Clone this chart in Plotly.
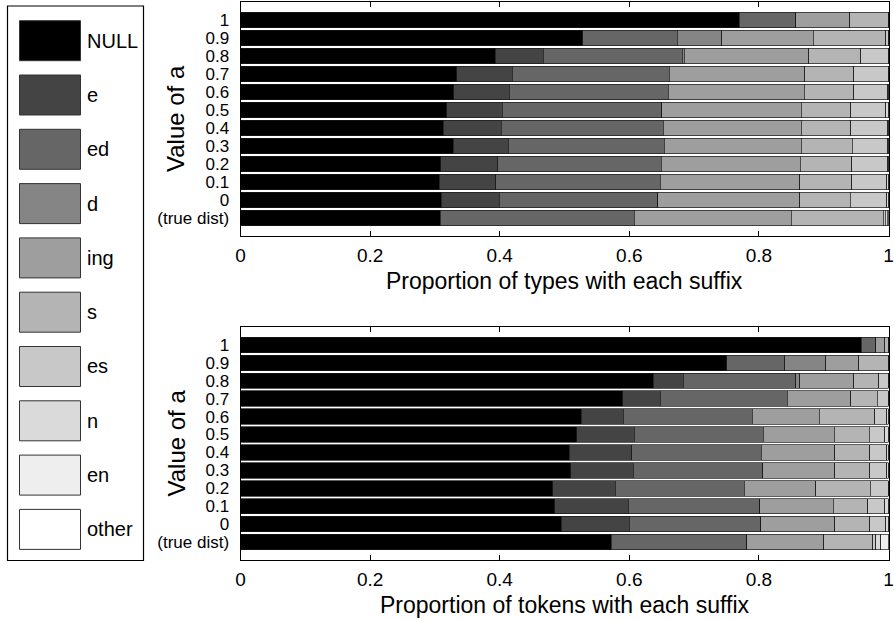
import plotly.graph_objects as go

W, H = 894, 620

rows = ["1", "0.9", "0.8", "0.7", "0.6", "0.5", "0.4", "0.3", "0.2", "0.1", "0", "(true dist)"]
suffixes = ["NULL", "e", "ed", "d", "ing", "s", "es", "n", "en", "other"]
colors = ["#000000", "#444444", "#666666", "#858585", "#9e9e9e", "#b4b4b4",
          "#c8c8c8", "#dadada", "#eeeeee", "#ffffff"]

# proportions of types, one list per row (order of suffixes)
types_1 = [0.770, 0.000, 0.087, 0.000, 0.083, 0.060, 0.000, 0.000, 0.000, 0.000]
types_09 = [0.528, 0.000, 0.146, 0.069, 0.141, 0.112, 0.004, 0.000, 0.000, 0.000]
types_08 = [0.393, 0.074, 0.215, 0.003, 0.192, 0.080, 0.043, 0.000, 0.000, 0.000]
types_07 = [0.334, 0.085, 0.243, 0.000, 0.209, 0.075, 0.054, 0.000, 0.000, 0.000]
types_06 = [0.329, 0.086, 0.245, 0.000, 0.210, 0.076, 0.053, 0.001, 0.000, 0.000]
types_05 = [0.318, 0.086, 0.246, 0.000, 0.215, 0.077, 0.054, 0.004, 0.000, 0.000]
types_04 = [0.313, 0.089, 0.250, 0.000, 0.213, 0.077, 0.057, 0.001, 0.000, 0.000]
types_03 = [0.328, 0.085, 0.241, 0.000, 0.211, 0.079, 0.055, 0.001, 0.000, 0.000]
types_02 = [0.309, 0.088, 0.252, 0.000, 0.215, 0.079, 0.056, 0.001, 0.000, 0.000]
types_01 = [0.307, 0.087, 0.254, 0.000, 0.215, 0.080, 0.054, 0.003, 0.000, 0.000]
types_0 = [0.310, 0.089, 0.245, 0.000, 0.219, 0.078, 0.056, 0.003, 0.000, 0.000]
types_true = [0.308, 0.000, 0.300, 0.000, 0.242, 0.142, 0.003, 0.003, 0.002, 0.000]

# proportions of tokens
tokens_1 = [0.958, 0.000, 0.022, 0.000, 0.014, 0.006, 0.000, 0.000, 0.000, 0.000]
tokens_09 = [0.750, 0.000, 0.090, 0.063, 0.051, 0.046, 0.000, 0.000, 0.000, 0.000]
tokens_08 = [0.637, 0.046, 0.174, 0.006, 0.083, 0.039, 0.015, 0.000, 0.000, 0.000]
tokens_07 = [0.590, 0.058, 0.196, 0.000, 0.098, 0.041, 0.017, 0.000, 0.000, 0.000]
tokens_06 = [0.526, 0.065, 0.199, 0.000, 0.103, 0.086, 0.018, 0.003, 0.000, 0.000]
tokens_05 = [0.519, 0.089, 0.199, 0.000, 0.109, 0.054, 0.024, 0.006, 0.000, 0.000]
tokens_04 = [0.507, 0.097, 0.200, 0.000, 0.113, 0.054, 0.026, 0.003, 0.000, 0.000]
tokens_03 = [0.510, 0.096, 0.200, 0.000, 0.111, 0.054, 0.026, 0.003, 0.000, 0.000]
tokens_02 = [0.482, 0.096, 0.199, 0.000, 0.111, 0.084, 0.028, 0.000, 0.000, 0.000]
tokens_01 = [0.485, 0.113, 0.203, 0.000, 0.114, 0.053, 0.026, 0.006, 0.000, 0.000]
tokens_0 = [0.495, 0.105, 0.203, 0.000, 0.114, 0.054, 0.025, 0.004, 0.000, 0.000]
tokens_true = [0.572, 0.000, 0.209, 0.000, 0.119, 0.076, 0.004, 0.008, 0.012, 0.000]

x_tickvals = [0, 0.2, 0.4, 0.6, 0.8, 1]
x_ticktext = ["0", "0.2", "0.4", "0.6", "0.8", "1"]

types_rows = [types_1, types_09, types_08, types_07, types_06, types_05, types_04,
              types_03, types_02, types_01, types_0, types_true]
tokens_rows = [tokens_1, tokens_09, tokens_08, tokens_07, tokens_06, tokens_05, tokens_04,
               tokens_03, tokens_02, tokens_01, tokens_0, tokens_true]

FONT = "Liberation Sans, Arial, Helvetica, sans-serif"

fig = go.Figure()
for data, xa, ya in [(types_rows, "x", "y"), (tokens_rows, "x2", "y2")]:
    for k, (name, col) in enumerate(zip(suffixes, colors)):
        fig.add_trace(go.Bar(
            orientation="h",
            x=[r[k] for r in data],
            y=rows,
            name=name,
            width=0.86,
            marker=dict(color=col, line=dict(color="#1a1a1a", width=0.7)),
            xaxis=xa, yaxis=ya,
            showlegend=False,
            hoverinfo="x+y+name",
        ))


def px_x(p):
    return p / W


def px_y(p):
    return 1 - p / H


x0, x1 = 240.5, 888.5
top_box = (2, 236)
bot_box = (327, 560)

xaxis_common = dict(range=[0, 1], tickmode="array", tickvals=x_tickvals, ticktext=x_ticktext,
                    ticks="inside", ticklen=5, tickcolor="black", tickwidth=1,
                    showline=True, linecolor="black", linewidth=1, mirror="ticks",
                    showgrid=False, zeroline=False, automargin=False,
                    ticklabeloverflow="allow",
                    tickfont=dict(family=FONT, size=19, color="black"),
                    ticklabelstandoff=2)
yaxis_common = dict(type="category", categoryorder="array", categoryarray=rows,
                    tickmode="array", tickvals=rows, ticktext=rows,
                    range=[12, -1], ticks="", showline=True, linecolor="black",
                    linewidth=1, mirror=True, showgrid=False, zeroline=False,
                    automargin=False, ticklabeloverflow="allow",
                    tickfont=dict(family=FONT, size=17, color="black"),
                    ticklabelstandoff=7)

fig.update_layout(
    width=W, height=H,
    margin=dict(l=0, r=0, t=0, b=0),
    paper_bgcolor="white", plot_bgcolor="white",
    barmode="stack",
    xaxis=dict(domain=[px_x(x0), px_x(x1)], anchor="y", **xaxis_common),
    yaxis=dict(domain=[px_y(top_box[1]), px_y(top_box[0])], anchor="x", **yaxis_common),
    xaxis2=dict(domain=[px_x(x0), px_x(x1)], anchor="y2", **xaxis_common),
    yaxis2=dict(domain=[px_y(bot_box[1]), px_y(bot_box[0])], anchor="x2", **yaxis_common),
    font=dict(family=FONT, color="black"),
)

shapes = []
annotations = []

# legend frame
shapes.append(dict(type="rect", xref="paper", yref="paper",
                   x0=px_x(7.5), x1=px_x(143.5), y0=px_y(560.5), y1=px_y(6),
                   line=dict(color="black", width=1.2), fillcolor="rgba(0,0,0,0)"))
for i, (name, col) in enumerate(zip(suffixes, colors)):
    top = 20.7 + 54.3 * i
    shapes.append(dict(type="rect", xref="paper", yref="paper",
                       x0=px_x(19.5), x1=px_x(80.5), y0=px_y(top + 40), y1=px_y(top),
                       line=dict(color="#333333", width=1), fillcolor=col))
    annotations.append(dict(text=name, xref="paper", yref="paper",
                            x=px_x(85), y=px_y(top + 20), xanchor="left", yanchor="middle",
                            showarrow=False, font=dict(family=FONT, size=20, color="black")))

# axis titles
for yc in [(top_box[0] + top_box[1]) / 2, (bot_box[0] + bot_box[1]) / 2]:
    annotations.append(dict(text="Value of a", xref="paper", yref="paper",
                            x=px_x(176), y=px_y(yc), textangle=-90,
                            xanchor="center", yanchor="middle", showarrow=False,
                            font=dict(family=FONT, size=24, color="black")))
annotations.append(dict(text="Proportion of types with each suffix", xref="paper", yref="paper",
                        x=px_x((x0 + x1) / 2), y=px_y(281), xanchor="center", yanchor="middle",
                        showarrow=False, font=dict(family=FONT, size=23, color="black")))
annotations.append(dict(text="Proportion of tokens with each suffix", xref="paper", yref="paper",
                        x=px_x((x0 + x1) / 2), y=px_y(605), xanchor="center", yanchor="middle",
                        showarrow=False, font=dict(family=FONT, size=23, color="black")))

fig.update_layout(shapes=shapes, annotations=annotations)

fig.write_html("out.html")
